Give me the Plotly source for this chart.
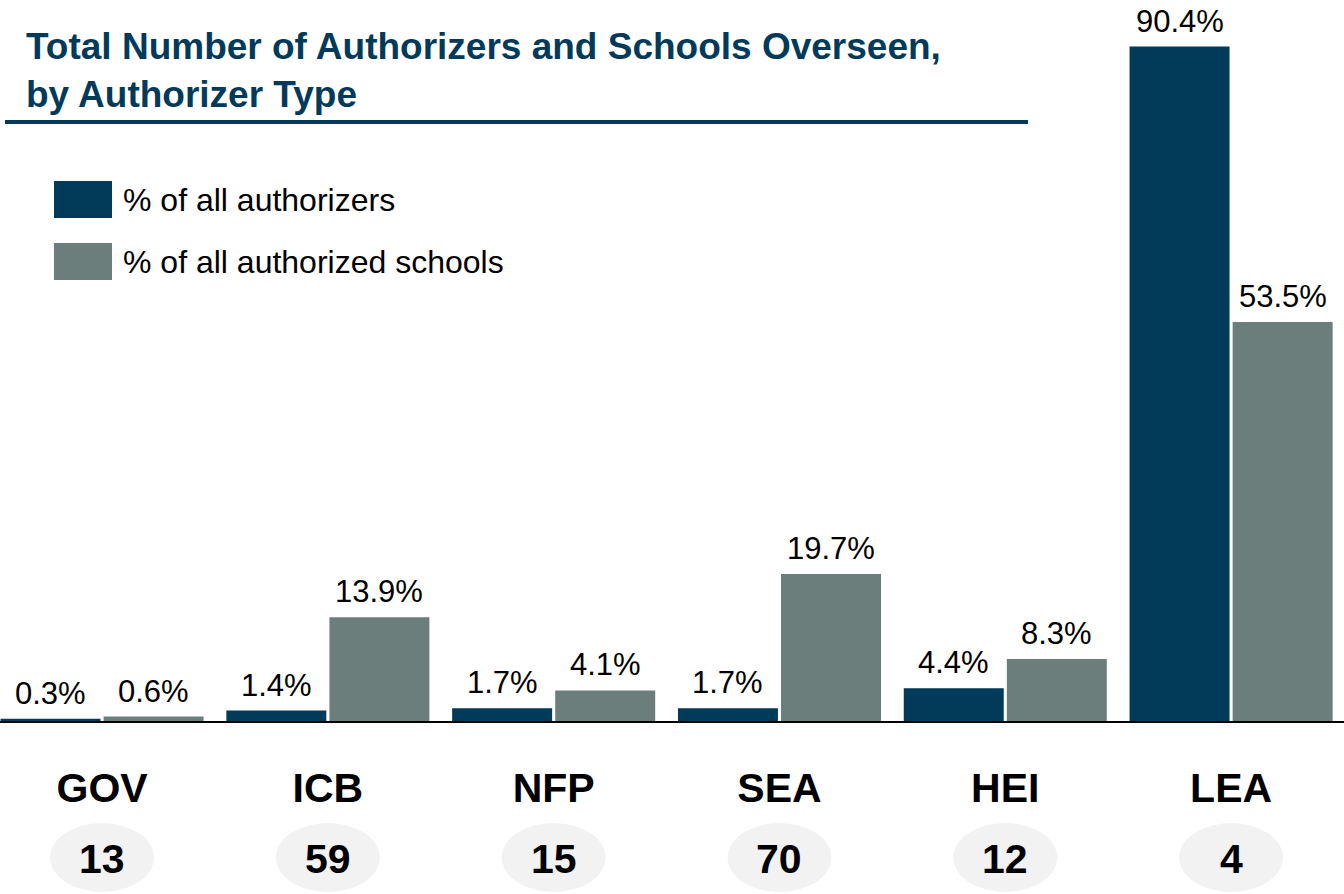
import plotly.graph_objs as go

# Data
categories = ["GOV", "ICB", "NFP", "SEA", "HEI", "LEA"]
pct_authorizers = [0.3, 1.4, 1.7, 1.7, 4.4, 90.4]
pct_schools = [0.6, 13.9, 4.1, 19.7, 8.3, 53.5]
authorizer_counts = [13, 59, 15, 70, 12, 4]

series_names = ["% of all authorizers", "% of all authorized schools"]

BLUE = "#023a5a"
GRAY = "#6c7e7c"
FONT = "Liberation Sans, Arial, sans-serif"

fig = go.Figure()

for k, (name, values, color) in enumerate(zip(series_names, [pct_authorizers, pct_schools], [BLUE, GRAY])):
    fig.add_trace(go.Bar(
        x=categories,
        y=values,
        name=name,
        marker=dict(color=color, line=dict(width=0)),
        showlegend=False,
    ))
    # value labels above each bar
    shift = -51.5 if k == 0 else 51.5
    for cat, v in zip(categories, values):
        fig.add_annotation(x=cat, y=v, xref="x", yref="y", text=f"{v:.1f}%",
                           showarrow=False, xshift=shift, yshift=6, yanchor="bottom",
                           font=dict(family=FONT, size=31, color="black"))

# Custom legend: large colour squares + labels
legend_top = [181, 243]
for i, (name, color) in enumerate(zip(series_names, [BLUE, GRAY])):
    y0 = 1 - legend_top[i] / 721
    fig.add_shape(type="rect", xref="paper", yref="paper",
                  x0=54 / 1344, x1=112 / 1344, y0=y0 - 37 / 721, y1=y0,
                  fillcolor=color, line=dict(width=0))
    fig.add_annotation(xref="paper", yref="paper", x=121 / 1344, y=y0 - 18.5 / 721,
                       text=name, showarrow=False, xanchor="left", yanchor="middle",
                       font=dict(family=FONT, size=32, color="black"))

# Title and underline
fig.add_annotation(xref="paper", yref="paper", x=24 / 1344, y=1 - 24 / 721,
                   text="Total Number of Authorizers and Schools Overseen,<br>by Authorizer Type",
                   showarrow=False, xanchor="left", yanchor="top", align="left",
                   font=dict(family=FONT, size=37, color=BLUE, weight="bold"))
fig.add_shape(type="line", xref="paper", yref="paper",
              x0=5 / 1344, x1=1028 / 1344, y0=1 - 122 / 721, y1=1 - 122 / 721,
              line=dict(color=BLUE, width=4))

# Ellipses with authorizer counts under each category
for i, n in enumerate(authorizer_counts):
    fig.add_shape(type="circle", xref="x", yref="paper",
                  x0=i - 0.23, x1=i + 0.23, y0=-(892 - 721) / 721, y1=-(823 - 721) / 721,
                  fillcolor="#f2f2f2", line=dict(width=0), layer="below")
    fig.add_annotation(xref="x", yref="paper", x=i, y=-(859 - 721) / 721,
                       text=str(n), showarrow=False, yanchor="middle",
                       font=dict(family=FONT, size=41, color="black", weight="bold"))

fig.update_layout(
    width=1344,
    height=894,
    margin=dict(l=0, r=0, t=0, b=173),
    barmode="group",
    bargap=0.087,
    bargroupgap=0.03,
    plot_bgcolor="white",
    paper_bgcolor="white",
    xaxis=dict(
        range=[-0.452, 5.5],
        showline=True,
        linecolor="black",
        linewidth=2,
        ticks="",
        showgrid=False,
        tickfont=dict(family=FONT, size=41, color="black", weight="bold"),
        ticklabelstandoff=30,
    ),
    yaxis=dict(range=[0, 96.65], visible=False, showgrid=False, zeroline=False),
)

fig.write_html("out.html", config={"displayModeBar": False},
               post_script="document.body.style.margin='0';")
